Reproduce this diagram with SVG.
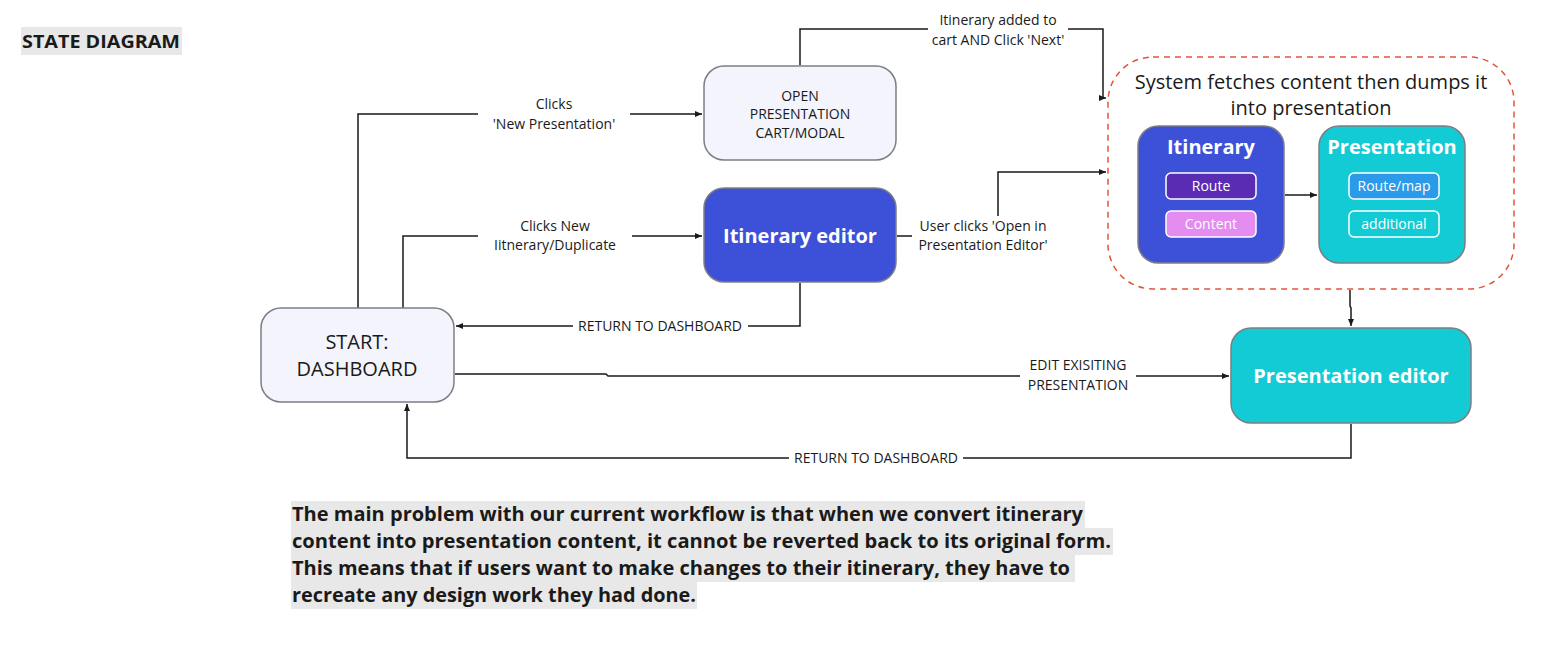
<svg xmlns="http://www.w3.org/2000/svg" width="1546" height="646" viewBox="0 0 1546 646">
<defs>
<marker id="arr" markerWidth="8" markerHeight="8" refX="7" refY="4" orient="auto" markerUnits="userSpaceOnUse">
<path d="M0,1 L7,4 L0,7 Z" fill="#1a1a1a"/>
</marker>
</defs>
<style>
.t{font-family:"Open Sans","Noto Sans",sans-serif;fill:#1a1a1a}
.lbl{font-size:14px;text-anchor:middle}
.w{fill:#ffffff;font-weight:bold;text-anchor:middle;font-size:20px}
.pt{fill:#ffffff;text-anchor:middle;font-size:14px}
.node{stroke:#7d7d85;stroke-width:1.5}
.ln{fill:none;stroke:#1a1a1a;stroke-width:1.5}
.pill{stroke:#ffffff;stroke-width:1.5}
.hl{fill:#e8e8e8}
</style>
<rect width="1546" height="646" fill="#ffffff"/>
<g id="title">
<rect class="hl" x="21" y="27" width="161" height="28"/>
<text class="t" x="22" y="48" font-size="18.5" font-weight="bold" textLength="158" lengthAdjust="spacingAndGlyphs">STATE DIAGRAM</text>
</g>
<g id="connectors">
<path class="ln" d="M358,308 V114 H478 M630,114 H702" marker-end="url(#arr)"/>
<path class="ln" d="M403,308 V236 H478 M632,236 H702" marker-end="url(#arr)"/>
<path class="ln" d="M800,283 V326 H748 M573,326 H456" marker-end="url(#arr)"/>
<path class="ln" d="M455,374 H606 L608,376 H1020 M1136,376 H1229" marker-end="url(#arr)"/>
<path class="ln" d="M1351,424 V458 H963 M789,458 H407 V404" marker-end="url(#arr)"/>
<path class="ln" d="M800,65 V29 H928 M1068,29 H1103 V98 H1106" marker-end="url(#arr)"/>
<path class="ln" d="M897,236 H912 M998,216 V172 H1106" marker-end="url(#arr)"/>
<path class="ln" d="M1285,195 H1317" marker-end="url(#arr)"/>
<path class="ln" d="M1350,290 V306 L1351,308 V326" marker-end="url(#arr)"/>
<text class="t lbl" x="554" y="109">Clicks</text>
<text class="t lbl" x="554" y="129">'New Presentation'</text>
<text class="t lbl" x="555" y="231">Clicks New</text>
<text class="t lbl" x="555" y="250">Iitnerary/Duplicate</text>
<text class="t lbl" x="660" y="331">RETURN TO DASHBOARD</text>
<text class="t lbl" x="1078" y="370">EDIT EXISITING</text>
<text class="t lbl" x="1078" y="390">PRESENTATION</text>
<text class="t lbl" x="876" y="463">RETURN TO DASHBOARD</text>
<text class="t lbl" x="998" y="25">Itinerary added to</text>
<text class="t lbl" x="998" y="45">cart AND Click 'Next'</text>
<text class="t lbl" x="983" y="231">User clicks 'Open in</text>
<text class="t lbl" x="983" y="250">Presentation Editor'</text>
</g>
<g id="dashboard">
<rect class="node" x="261" y="308" width="193" height="94" rx="20" fill="#f3f4fc"/>
<text class="t" x="357" y="349" font-size="20" text-anchor="middle">START:</text>
<text class="t" x="357" y="376" font-size="20" text-anchor="middle">DASHBOARD</text>
</g>
<g id="cart">
<rect class="node" x="704" y="66" width="192" height="94" rx="20" fill="#f3f4fc"/>
<text class="t" x="800" y="101" font-size="14" text-anchor="middle">OPEN</text>
<text class="t" x="800" y="119" font-size="14" text-anchor="middle">PRESENTATION</text>
<text class="t" x="800" y="138" font-size="14" text-anchor="middle">CART/MODAL</text>
</g>
<g id="itinerary-editor">
<rect class="node" x="704" y="188" width="192" height="94" rx="20" fill="#3d51d8"/>
<text class="t w" x="800" y="243">Itinerary editor</text>
</g>
<g id="system-container">
<rect x="1108" y="57" width="406" height="232" rx="45" fill="none" stroke="#e0553b" stroke-width="1.5" stroke-dasharray="6,5"/>
<text class="t" x="1311" y="89" font-size="20" text-anchor="middle">System fetches content then dumps it</text>
<text class="t" x="1311" y="115" font-size="20" text-anchor="middle">into presentation</text>
</g>
<g id="itinerary">
<rect class="node" x="1138" y="126" width="146" height="137" rx="20" fill="#3d51d8"/>
<text class="t w" x="1211" y="154">Itinerary</text>
<rect class="pill" x="1166" y="173" width="90" height="26" rx="5" fill="#5a2bb3"/>
<text class="t pt" x="1211" y="191">Route</text>
<rect class="pill" x="1166" y="211" width="90" height="26" rx="5" fill="#e48cf0"/>
<text class="t pt" x="1211" y="229">Content</text>
</g>
<g id="presentation">
<rect class="node" x="1319" y="126" width="146" height="137" rx="20" fill="#13cbd4"/>
<text class="t w" x="1392" y="154">Presentation</text>
<rect class="pill" x="1349" y="173" width="90" height="26" rx="5" fill="#2b9be9"/>
<text class="t pt" x="1394" y="191">Route/map</text>
<rect class="pill" x="1349" y="211" width="90" height="26" rx="5" fill="#13cbd4"/>
<text class="t pt" x="1394" y="229">additional</text>
</g>
<g id="presentation-editor">
<rect class="node" x="1231" y="328" width="240" height="95" rx="20" fill="#13cbd4"/>
<text class="t w" x="1351" y="383">Presentation editor</text>
</g>
<g id="note">
<rect class="hl" x="291" y="501" width="794" height="27"/>
<rect class="hl" x="291" y="528" width="822" height="27"/>
<rect class="hl" x="291" y="555" width="784" height="27"/>
<rect class="hl" x="291" y="582" width="406" height="27"/>
<text class="t" x="292" y="521" font-size="19" font-weight="bold" textLength="791" lengthAdjust="spacingAndGlyphs">The main problem with our current workflow is that when we convert itinerary</text>
<text class="t" x="292" y="548" font-size="19" font-weight="bold" textLength="819" lengthAdjust="spacingAndGlyphs">content into presentation content, it cannot be reverted back to its original form.</text>
<text class="t" x="292" y="575" font-size="19" font-weight="bold" textLength="778" lengthAdjust="spacingAndGlyphs">This means that if users want to make changes to their itinerary, they have to</text>
<text class="t" x="292" y="602" font-size="19" font-weight="bold" textLength="404" lengthAdjust="spacingAndGlyphs">recreate any design work they had done.</text>
</g>
</svg>
